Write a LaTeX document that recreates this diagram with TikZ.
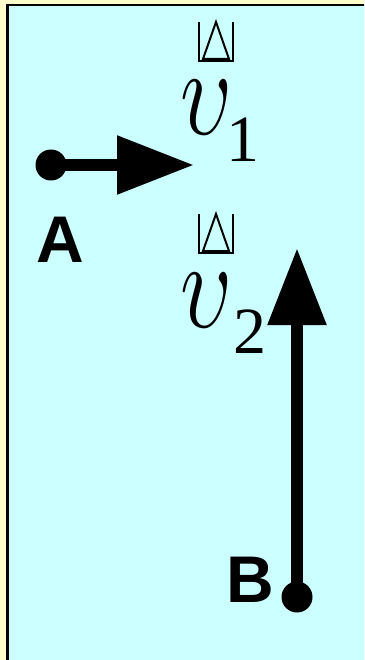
\documentclass[tikz,border=0pt]{standalone}
\usepackage{fontspec}
\setsansfont{Liberation Sans}
\newfontfamily\subfont{Liberation Serif}
\usepackage{tikz}
\usetikzlibrary{arrows.meta}
\definecolor{paper}{HTML}{FFFFCC}
\definecolor{panel}{HTML}{CCFFFF}
\tikzset{
  panel frame/.style={fill=panel,draw=black,line width=2.5pt},
  vector line/.style={line width=12pt,-{Triangle[length=77pt,width=56pt]}},
  tail dot/.style={circle,fill=black,minimum size=31pt,inner sep=0pt},
  point label/.style={font=\sffamily\bfseries\fontsize{66}{66}\selectfont,inner sep=0pt},
  vector name/.style={inner sep=0pt,anchor=base west},
  vector index/.style={font=\subfont\fontsize{66}{66}\selectfont,inner sep=0pt,anchor=base west},
  hat line/.style={line width=2pt,line join=miter},
}
\newcommand{\drawHatBox}[1]{
\begin{scope}[shift={(#1)}]
\draw[hat line] (-17,0) -- (-17,39) -- (17,39) -- (17,0);
\draw[hat line] (0,0) -- (-13,37) -- (13,37) -- cycle;
\end{scope}
}
\newcommand{\bigups}{\scalebox{9}[12.5]{$\upsilon$}}

\begin{document}
\begin{tikzpicture}[x=1pt,y=-1pt]
\useasboundingbox (0,0) rectangle (364,660);
\clip (0,0) rectangle (364,660);
\fill[paper] (0,0) rectangle (364,660);
\draw[panel frame] (7.5,5) rectangle (400,700);
% vector v1 from A
\node[tail dot] (dotA) at (51,165) {};
\coordinate (tipA) at (194,165);
\draw[vector line] (dotA.center) -- (tipA);
\node[point label] (labelA) at (60,240) {A};
\drawHatBox{216,22}
\node[vector name] (v1) at (180,135) {\bigups};
\node[vector index] (i1) at (226,162) {1};
% vector v2 from B
\node[tail dot] (dotB) at (297,597) {};
\coordinate (tipB) at (297,248);
\draw[vector line] (dotB.center) -- (tipB);
\node[point label] (labelB) at (250,580) {B};
\drawHatBox{216,214}
\node[vector name] (v2) at (180,327) {\bigups};
\node[vector index] (i2) at (233,353) {2};
\end{tikzpicture}
\end{document}
